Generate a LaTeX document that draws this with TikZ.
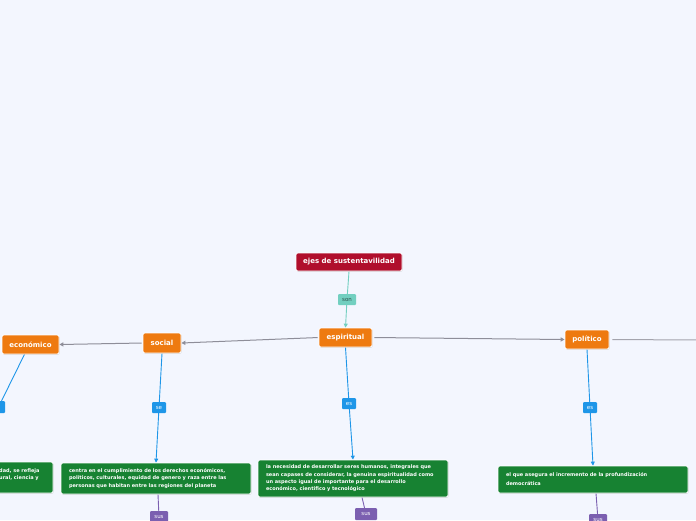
\documentclass[tikz,border=0pt]{standalone}
\usepackage{fontspec}
\setmainfont{DejaVu Sans}
\usetikzlibrary{arrows.meta,backgrounds,shadows}
\definecolor{bg}{RGB}{243,246,254}
\definecolor{cred}{RGB}{176,14,44}
\definecolor{corange}{RGB}{238,122,16}
\definecolor{cgreen}{RGB}{23,130,50}
\definecolor{cblue}{RGB}{30,150,232}
\definecolor{cteal}{RGB}{114,207,192}
\definecolor{cpurple}{RGB}{123,95,176}
\definecolor{cgray}{RGB}{142,142,153}
\begin{document}
\begin{tikzpicture}[x=1pt,y=-1pt,
  box/.style={rounded corners=2pt, draw=white, line width=0.7pt, inner sep=0pt, text=white,
    drop shadow={shadow xshift=0.6pt, shadow yshift=-0.8pt, opacity=0.25}},
  topbox/.style={box, fill=cred, font=\bfseries\fontsize{7}{8}\selectfont},
  mainbox/.style={box, fill=corange, font=\bfseries\fontsize{7}{8}\selectfont},
  greenbox/.style={box, fill=cgreen, align=left, inner xsep=8pt, font=\bfseries\fontsize{5}{7.3}\selectfont},
  lbl/.style={rounded corners=1pt, inner sep=0pt, font=\fontsize{5.5}{6}\selectfont, text=white},
  bluelbl/.style={lbl, fill=cblue},
  purplelbl/.style={lbl, fill=cpurple},
  graylink/.style={cgray, line width=1pt, -{Triangle[length=4pt,width=4pt]}},
  bluelink/.style={cblue, line width=0.9pt, -{Triangle[length=4pt,width=4pt]}},
  purplelink/.style={cpurple, line width=0.9pt},
]
\useasboundingbox (0,0) rectangle (696,520);
\begin{scope}[on background layer]
\fill[bg] (0,0) rectangle (696,520);
\end{scope}
\begin{scope}
\clip (0,0) rectangle (696,520);
% main nodes
\node[topbox, minimum width=106pt, minimum height=18pt] (ejes) at (349,262) {ejes de sustentavilidad};
\node[mainbox, minimum width=53pt, minimum height=19pt] (esp) at (345.5,337.5) {espiritual};
\node[mainbox, minimum width=38pt, minimum height=20pt] (soc) at (162,343) {social};
\node[mainbox, minimum width=57pt, minimum height=19pt] (eco) at (30.5,344.5) {económico};
\node[mainbox, minimum width=44pt, minimum height=19pt] (pol) at (587,339.5) {político};
% labels
\node[lbl, fill=cteal, text=black!60!cteal, minimum width=18pt, minimum height=11pt] (son) at (347,299.5) {son};
\node[bluelbl, minimum width=14pt, minimum height=11pt] (se) at (159,407.5) {se};
\node[bluelbl, minimum width=14pt, minimum height=11pt] (es1) at (349,403.5) {es};
\node[bluelbl, minimum width=14pt, minimum height=11pt] (es2) at (590,407.5) {es};
\node[bluelbl, minimum width=13pt, minimum height=12pt] (lb) at (-1.5,407) {};
% green boxes
\node[greenbox, text width=174pt, minimum height=31pt] (gl) at (-42,477.5) {};
\node[anchor=west, align=left, text=white, inner sep=0pt, font=\bfseries\fontsize{5}{7.3}\selectfont] (glt) at (-1,474.5) {dad, se refleja\\ural, ciencia y};
\node[greenbox, text width=174pt, minimum height=31pt] (gs) at (156,478.5) {centra en el cumplimiento de los derechos económicos,\\políticos, culturales, equidad de genero y raza entre las\\personas que habitan entre las regiones del planeta};
\node[greenbox, text width=174pt, minimum height=37pt] (ge) at (353,478.5) {la necesidad de desarrollar seres humanos, integrales que\\sean capases de considerar, la genuina espiritualidad como\\un aspecto igual de importante para el desarrollo\\económico, cientifico y tecnológico};
\node[greenbox, text width=174pt, minimum height=27pt, font=\bfseries\fontsize{5}{9}\selectfont] (gp) at (593,479.5) {el que asegura el incremento de la profundización\\democrática};
% sus labels
\node[purplelbl, minimum width=18pt, minimum height=12pt] (sus1) at (159,517) {sus};
\node[purplelbl, minimum width=22pt, minimum height=12pt] (sus2) at (366,514) {sus};
\node[purplelbl, minimum width=18pt, minimum height=12pt] (sus3) at (598,520) {sus};
\coordinate (polend) at (700,340);
\end{scope}
\begin{scope}[on background layer]
\clip (0,0) rectangle (696,520);
\draw[cteal, line width=0.9pt, -{Triangle[length=4pt,width=4pt]}] (ejes.south) -- (son) -- (esp.north);
\draw[graylink, shorten <=1pt] (esp.west) -- (soc.east);
\draw[graylink, shorten <=2pt] (esp.east) -- (pol.west);
\draw[graylink, shorten <=1pt] (soc.west) -- (eco.east);
\draw[cgray!80, line width=1pt, shorten <=3pt] (pol.east) -- (polend);
\draw[cblue, line width=0.9pt] ([xshift=-6pt]eco.south) -- (lb);
\draw[cblue, line width=0.9pt] (soc.south) -- (se);
\draw[bluelink] (se) -- (gs.north);
\draw[cblue, line width=0.9pt] (esp.south) -- (es1);
\draw[bluelink] (es1) -- (ge.north);
\draw[cblue, line width=0.9pt] (pol.south) -- (es2);
\draw[bluelink] (es2) -- (gp.north);
\draw[purplelink] ([xshift=2pt]gs.south) -- (sus1);
\draw[purplelink] ([xshift=9pt]ge.south) -- (sus2);
\draw[purplelink] ([xshift=3pt]gp.south) -- (sus3);
\end{scope}
\end{tikzpicture}
\end{document}
